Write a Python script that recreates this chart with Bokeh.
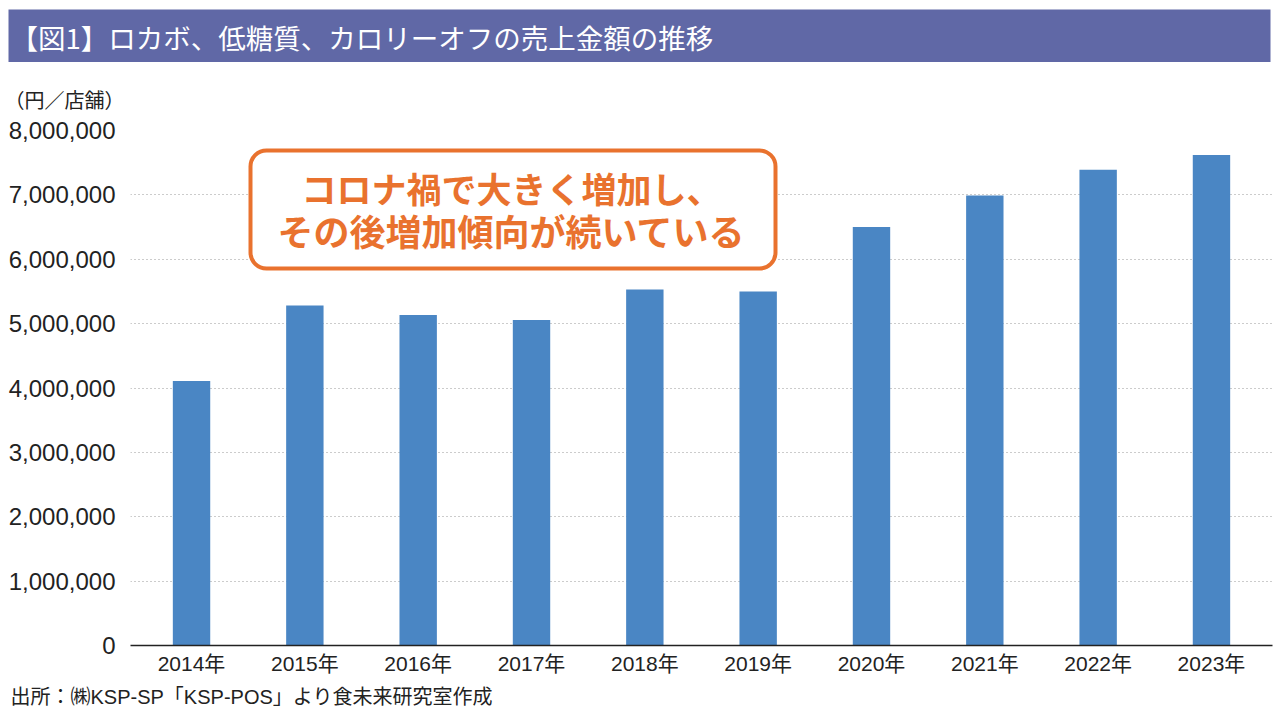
from bokeh.plotting import figure
from bokeh.layouts import column
from bokeh.models import (Label, BoxAnnotation, FixedTicker, NumeralTickFormatter,
                          FactorRange, Range1d, ColumnDataSource, Title)
from bokeh.embed import file_html
from bokeh.resources import INLINE

# ---- data ----
years = ["2014年", "2015年", "2016年", "2017年", "2018年",
         "2019年", "2020年", "2021年", "2022年", "2023年"]
sales = [4110000, 5280000, 5135000, 5055000, 5530000,
         5500000, 6500000, 6990000, 7390000, 7620000]
y_ticks = [0, 1000000, 2000000, 3000000, 4000000, 5000000, 6000000, 7000000, 8000000]

title_text = "【図1】ロカボ、低糖質、カロリーオフの売上金額の推移"
unit_text = "（円／店舗）"
note_line1 = "コロナ禍で大きく増加し、"
note_line2 = "その後増加傾向が続いている"
source_text = "出所：㈱KSP-SP「KSP-POS」より食未来研究室作成"

LATIN = "Liberation Sans, Noto Sans CJK JP"
CJK = "Noto Sans CJK JP"
BAR = "#4a86c4"
ORANGE = "#e9722e"
TITLE_BG = "#6068a6"
INK = "#222222"

# ---- title bar: a small figure whose frame is the coloured band ----
tf = figure(width=1280, height=62, x_range=Range1d(0, 1), y_range=Range1d(0, 1),
            x_axis_type=None, y_axis_type=None,
            output_backend="svg", toolbar_location=None,
            min_border_left=8, min_border_right=10, min_border_top=9, min_border_bottom=0)
tf.background_fill_color = TITLE_BG
tf.border_fill_color = "white"
tf.outline_line_color = None
tf.grid.visible = False
tf.add_layout(Label(x=2, y=26, x_units="screen", y_units="screen",
                    text=title_text, text_font=CJK, text_font_size="27.5px",
                    text_color="white", text_baseline="middle", text_align="left"))

# ---- main chart ----
src = ColumnDataSource(dict(year=years, sales=sales))

p = figure(x_range=FactorRange(*years, range_padding=0.0077),
           y_range=Range1d(0, 8000000),
           width=1280, height=657,
           output_backend="svg", toolbar_location=None,
           min_border_left=130, min_border_right=8,
           min_border_top=68, min_border_bottom=74)
p.outline_line_color = None
p.background_fill_color = "white"
p.border_fill_color = "white"

# do not align the two frames with each other
for fig in (tf, p):
    if "frame_align" in fig.properties():
        fig.frame_align = False

p.vbar(x="year", top="sales", width=0.33, source=src,
       fill_color=BAR, line_color=None)

yax = p.yaxis[0]
yax.ticker = FixedTicker(ticks=y_ticks)
yax.formatter = NumeralTickFormatter(format="0,0")
yax.axis_line_color = None
yax.major_tick_line_color = None
yax.minor_tick_line_color = None
yax.major_label_standoff = 9
yax.major_label_text_font = LATIN
yax.major_label_text_font_size = "24px"
yax.major_label_text_color = INK

xax = p.xaxis[0]
xax.axis_line_color = INK
xax.axis_line_width = 1.5
xax.major_tick_line_color = None
xax.minor_tick_line_color = None
xax.major_label_standoff = 0
xax.major_label_text_font = LATIN
xax.major_label_text_font_size = "21px"
xax.major_label_text_color = INK

p.xgrid.grid_line_color = None
p.ygrid.ticker = FixedTicker(ticks=y_ticks)
p.ygrid.grid_line_color = "#999999"
p.ygrid.grid_line_dash = "1 3"
p.ygrid.grid_line_width = 1

# unit label and source as side-panel titles
p.add_layout(Title(text=unit_text, align="left", offset=-126,
                   text_font=CJK, text_font_size="20px", text_font_style="normal",
                   text_color=INK, standoff=33), "above")
p.add_layout(Title(text=source_text, align="left", offset=-120,
                   text_font=LATIN, text_font_size="20px", text_font_style="normal",
                   text_color=INK, standoff=13), "below")

# callout box (screen units relative to the frame)
p.add_layout(BoxAnnotation(left=120, right=645, bottom=377, top=495,
                           left_units="screen", right_units="screen",
                           bottom_units="screen", top_units="screen",
                           fill_color="white", fill_alpha=1.0,
                           line_color=ORANGE, line_alpha=1.0, line_width=4,
                           border_radius=16))
p.add_layout(Label(x=381, y=458, x_units="screen", y_units="screen",
                   text=note_line1, text_font=CJK, text_font_size="35px",
                   text_font_style="bold", text_color=ORANGE,
                   text_baseline="middle", text_align="center"))
p.add_layout(Label(x=381, y=416, x_units="screen", y_units="screen",
                   text=note_line2, text_font=CJK, text_font_size="36px",
                   text_font_style="bold", text_color=ORANGE,
                   text_baseline="middle", text_align="center"))

layout = column(tf, p, spacing=0)
open("out.html", "w").write(file_html(layout, INLINE))
